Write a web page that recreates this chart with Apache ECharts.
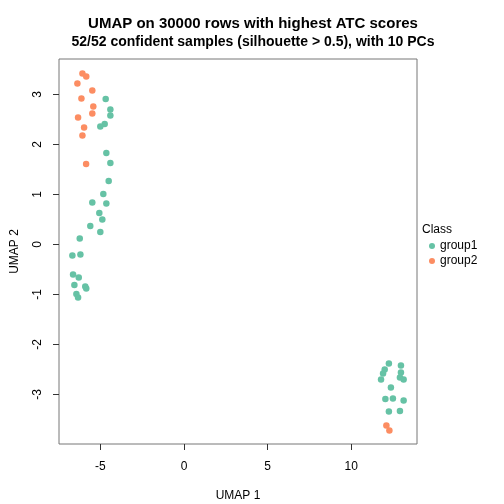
<!DOCTYPE html>
<html>
<head>
<meta charset="utf-8">
<script src="https://cdn.jsdelivr.net/npm/echarts@6/dist/echarts.min.js"></script>
<style>html,body{margin:0;padding:0;background:#fff}#c{width:504px;height:504px}</style>
</head>
<body>
<div id="c"></div>
<script>
const titleLines = ["UMAP on 30000 rows with highest ATC scores", "52/52 confident samples (silhouette > 0.5), with 10 PCs"];
const xTicks = [-5, 0, 5, 10];
const yTicks = [-3, -2, -1, 0, 1, 2, 3];
const groupNames = ["group1", "group2"];
const group1X = [-4.68,-4.40,-4.40,-4.74,-5.00,-4.64,-4.40,-4.50,-4.82,-5.48,-4.64,-5.06,-4.88,-5.60,-5.00,-6.23,-6.67,-6.19,-6.63,-6.29,-6.55,-5.90,-5.84,-6.43,-6.33,12.25,12.97,12.00,11.90,12.97,11.78,12.91,13.13,12.37,12.04,12.49,13.13,12.25,12.91];
const group1Y = [2.91,2.70,2.58,2.41,2.36,1.83,1.63,1.27,1.01,0.84,0.82,0.63,0.50,0.37,0.25,0.12,-0.22,-0.20,-0.60,-0.66,-0.81,-0.84,-0.88,-0.99,-1.06,-2.38,-2.42,-2.50,-2.58,-2.56,-2.70,-2.66,-2.70,-2.86,-3.09,-3.08,-3.12,-3.34,-3.33];
const group2X = [-6.07,-5.84,-6.37,-5.48,-6.13,-5.42,-5.48,-6.33,-5.97,-6.07,-5.85,12.10,12.28];
const group2Y = [3.42,3.36,3.22,3.08,2.92,2.76,2.62,2.54,2.34,2.18,1.61,-3.62,-3.72];
const colors = ["#66C2A5", "#FC8D62"];

const zip = (a, b) => a.map((v, i) => [v, b[i]]);
const chart = echarts.init(document.getElementById('c'), null, {renderer: 'canvas'});
const font = "Liberation Sans, Arial, Helvetica, sans-serif";
chart.setOption({
  animation: false,
  backgroundColor: '#fff',
  textStyle: {fontFamily: font},
  title: [
    {text: titleLines[0], left: 248, top: 11, textAlign: 'center', textStyle: {fontSize: 15, fontWeight: 'bold', color: '#000', fontFamily: font}},
    {text: titleLines[1], left: 248, top: 30, textAlign: 'center', textStyle: {fontSize: 14, fontWeight: 'bold', color: '#000', fontFamily: font}}
  ],
  grid: {left: 59, right: 87, top: 59, bottom: 60, containLabel: false, outerBoundsMode: 'none', show: true, borderColor: '#777', borderWidth: 1, backgroundColor: 'transparent'},
  xAxis: {
    type: 'value', min: -7.47, max: 13.93,
    name: 'UMAP 1', nameLocation: 'middle', nameGap: 46,
    nameTextStyle: {fontSize: 12, color: '#000', fontFamily: font},
    axisLine: {show: false, onZero: false},
    splitLine: {show: false},
    axisTick: {show: true, length: 6, inside: false, customValues: xTicks, lineStyle: {color: '#333'}},
    axisLabel: {fontSize: 12, color: '#000', margin: 17, customValues: xTicks, fontFamily: font}
  },
  yAxis: {
    type: 'value', min: -3.99, max: 3.71,
    name: 'UMAP 2', nameLocation: 'middle', nameGap: 38, nameRotate: 90,
    nameTextStyle: {fontSize: 12, color: '#000', fontFamily: font},
    axisLine: {show: false, onZero: false},
    splitLine: {show: false},
    axisTick: {show: true, length: 6, customValues: yTicks, lineStyle: {color: '#333'}},
    axisLabel: {fontSize: 12, color: '#000', margin: 15, rotate: 90, customValues: yTicks, fontFamily: font}
  },
  legend: {
    orient: 'vertical', left: 424, top: 235, itemWidth: 6, itemHeight: 6, itemGap: 3,
    icon: 'circle',
    textStyle: {fontSize: 12, color: '#000', fontFamily: font},
    data: groupNames
  },
  graphic: [{type: 'text', left: 422, top: 224, style: {text: 'Class', fontSize: 12, fill: '#000', fontFamily: font}}],
  series: [
    {name: groupNames[0], type: 'scatter', symbolSize: 6.5, itemStyle: {color: colors[0], opacity: 1}, data: zip(group1X, group1Y)},
    {name: groupNames[1], type: 'scatter', symbolSize: 6.5, itemStyle: {color: colors[1], opacity: 1}, data: zip(group2X, group2Y)}
  ]
});
</script>
</body>
</html>
